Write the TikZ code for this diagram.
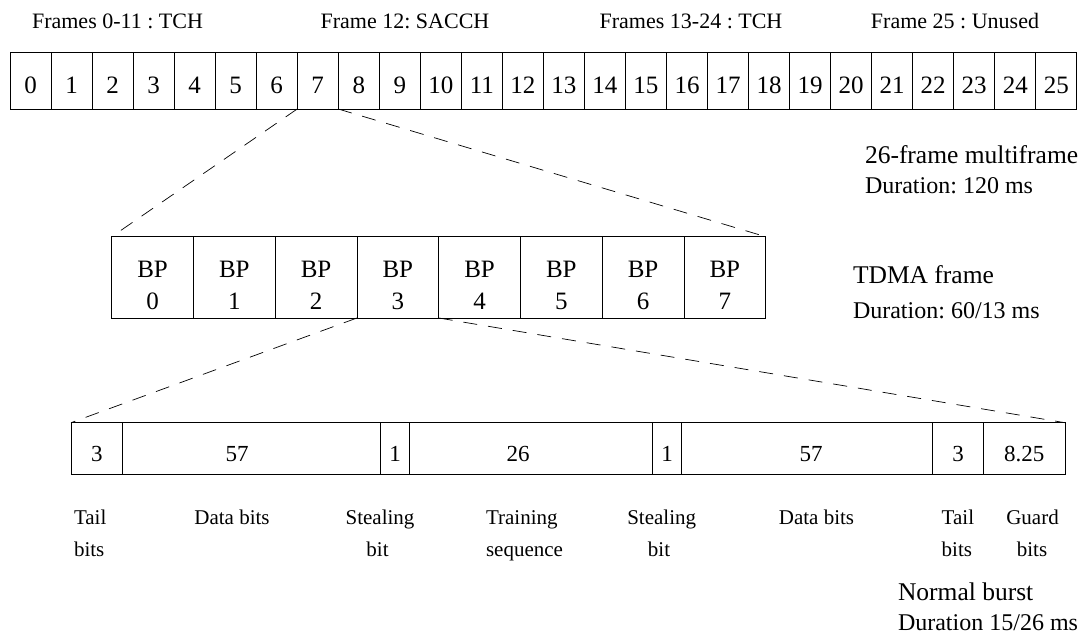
\documentclass[tikz,border=0pt]{standalone}
\usepackage{fontspec}
\setmainfont{Liberation Serif}
\frenchspacing
\begin{document}
\begin{tikzpicture}[x=1pt,y=1pt,yscale=-1,
  every node/.style={inner sep=0pt,outer sep=0pt},
  frm/.style={draw,line width=0.8pt,minimum width=41.03pt,minimum height=57pt,font=\fontsize{25}{30}\selectfont,text height=26pt,text depth=0pt},
  bp/.style={draw,line width=0.8pt,minimum width=81.75pt,minimum height=81.3pt,align=center,font=\fontsize{25}{32}\selectfont,text height=65pt,text depth=0pt},
  bitbox/.style={draw,line width=0.8pt,minimum height=51.3pt,font=\fontsize{23}{28}\selectfont,text height=25.3pt,text depth=0pt},
  zoomline/.style={line width=0.7pt,dash pattern=on 14pt off 11pt},
  head/.style={font=\fontsize{22}{26}\selectfont,anchor=base},
  lbl/.style={font=\fontsize{21}{25}\selectfont},
  title/.style={font=\fontsize{25.5}{30}\selectfont,anchor=base west},
  dur/.style={font=\fontsize{24}{28}\selectfont,anchor=base west}]
\useasboundingbox (0,0) rectangle (1086,637);

% 26-frame multiframe
\foreach \i in {0,...,25}
  \node[frm] (f\i) at ({10+41.03*(\i+0.5)},80.5) {\i};

% TDMA frame
\foreach \i in {0,...,7}
  \node[bp] (bp\i) at ({111.7+81.75*(\i+0.5)},277.35) {BP\\\i};

% Normal burst
\foreach \l/\r/\t [count=\k from 0] in {71/122.7/3, 122.7/380.7/{57\hspace*{29pt}}, 380.7/409.3/1, 409.3/652.7/{26\hspace*{26pt}}, 652.7/681.7/1, 681.7/932.3/{\hspace*{8pt}57}, 932.3/983.7/3, 983.7/1065/8.25}
  \node[bitbox,minimum width={\r-\l}] (b\k) at ({(\l+\r)/2},448.35) {\t};

% Zoom lines
\draw[zoomline] (f7.south west) -- (bp0.north west);
\draw[zoomline] (f7.south east) -- (bp7.north east);
\draw[zoomline] (bp3.south west) -- (b0.north west);
\draw[zoomline] (bp3.south east) -- (b7.north east);

% Headers
\node[head] (h0) at (117.5,28) {Frames 0-11 : TCH};
\node[head] (h1) at (405,28) {Frame 12: SACCH};
\node[head] (h2) at (691,28) {Frames 13-24 : TCH};
\node[head] (h3) at (955,28) {Frame 25 : Unused};

% Titles
\node[title] (mf) at (865,163.3) {26-frame multiframe};
\node[dur] (mfd) at (865,193.3) {Duration: 120 ms};
\node[title] (tf) at (853,283) {TDMA frame};
\node[dur] (tfd) at (853,318) {Duration: 60/13 ms};
\node[title] (nb) at (898,600) {Normal burst};
\node[dur] (nbd) at (898,630) {Duration 15/26 ms};

% Bit labels
\node[lbl,anchor=base west] (l0a) at (74,524) {Tail};
\node[lbl,anchor=base west] (l0b) at (74,556) {bits};
\node[lbl,anchor=base] (l1) at (232,524) {Data bits};
\node[lbl,anchor=base] (l2a) at (380,524) {Stealing};
\node[lbl,anchor=base] (l2b) at (377.5,556) {bit};
\node[lbl,anchor=base west] (l3a) at (486,524) {Training};
\node[lbl,anchor=base west] (l3b) at (486,556) {sequence};
\node[lbl,anchor=base] (l4a) at (661.7,524) {Stealing};
\node[lbl,anchor=base] (l4b) at (659,556) {bit};
\node[lbl,anchor=base] (l5) at (816.5,524) {Data bits};
\node[lbl,anchor=base west] (l6a) at (941.7,524) {Tail};
\node[lbl,anchor=base west] (l6b) at (941.7,556) {bits};
\node[lbl,anchor=base] (l7a) at (1032.5,524) {Guard};
\node[lbl,anchor=base] (l7b) at (1032,556) {bits};

\end{tikzpicture}
\end{document}
